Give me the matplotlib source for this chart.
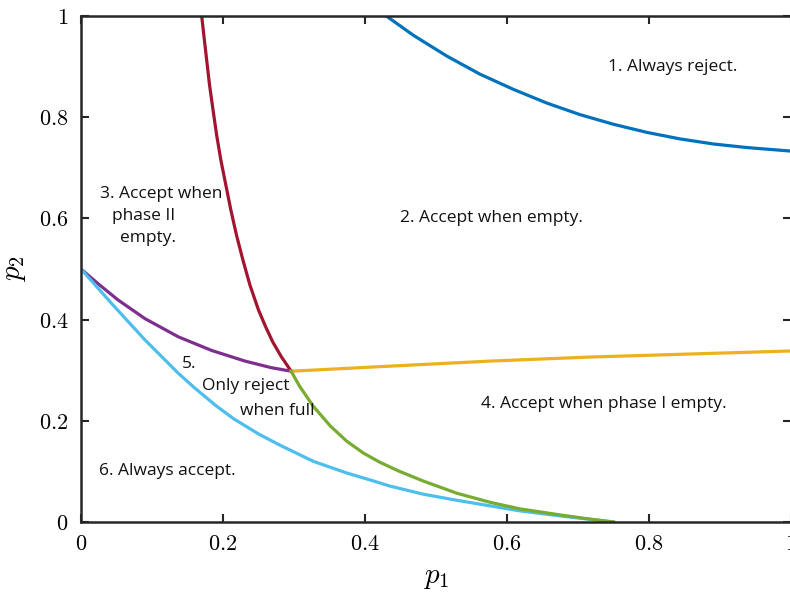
import matplotlib
matplotlib.use("Agg")
import matplotlib.pyplot as plt

plt.rcParams['mathtext.fontset'] = 'cm'

# boundary curves (p1, p2)
blue_x = [0.430, 0.468, 0.515, 0.562, 0.609, 0.656, 0.703, 0.750, 0.797, 0.844, 0.891, 0.938, 1.0]
blue_y = [1.0, 0.962, 0.921, 0.885, 0.855, 0.828, 0.805, 0.786, 0.770, 0.757, 0.747, 0.740, 0.733]

red_x = [0.170, 0.173, 0.177, 0.181, 0.186, 0.191, 0.197, 0.204, 0.211, 0.219, 0.228,
         0.238, 0.250, 0.260, 0.270, 0.282, 0.296]
red_y = [1.0, 0.962, 0.913, 0.864, 0.814, 0.765, 0.715, 0.666, 0.617, 0.567, 0.518,
         0.468, 0.419, 0.386, 0.356, 0.327, 0.298]

purple_x = [0.0, 0.024, 0.052, 0.090, 0.137, 0.184, 0.231, 0.268, 0.296]
purple_y = [0.500, 0.471, 0.439, 0.402, 0.366, 0.339, 0.318, 0.305, 0.298]

yellow_x = [0.296, 0.435, 0.576, 0.717, 0.858, 1.0]
yellow_y = [0.298, 0.308, 0.318, 0.326, 0.332, 0.338]

green_x = [0.296, 0.308, 0.327, 0.351, 0.374, 0.398, 0.421, 0.447, 0.482, 0.529,
           0.576, 0.618, 0.675, 0.710, 0.750]
green_y = [0.298, 0.268, 0.229, 0.190, 0.160, 0.136, 0.118, 0.101, 0.081, 0.057,
           0.039, 0.026, 0.014, 0.007, 0.0]

lblue_x = [0.0, 0.043, 0.090, 0.137, 0.160, 0.190, 0.215, 0.250, 0.280, 0.327, 0.374,
           0.412, 0.435, 0.482, 0.529, 0.576, 0.618, 0.675, 0.750]
lblue_y = [0.500, 0.432, 0.360, 0.294, 0.265, 0.230, 0.204, 0.174, 0.152, 0.120, 0.097,
           0.081, 0.071, 0.055, 0.043, 0.032, 0.022, 0.012, 0.0]

ticks = [0, 0.2, 0.4, 0.6, 0.8, 1]
tick_labels = ['$0$', '$0.2$', '$0.4$', '$0.6$', '$0.8$', '$1$']

fig = plt.figure(figsize=(7.9, 6.02), dpi=100)
ax = fig.add_axes([81 / 790, 80 / 602, 710 / 790, 506 / 602])

lw = 2.3
ax.plot(blue_x, blue_y, color='#0072BD', lw=lw)
ax.plot(red_x, red_y, color='#A2142F', lw=lw)
ax.plot(purple_x, purple_y, color='#7E2F8E', lw=lw)
ax.plot(yellow_x, yellow_y, color='#EDB120', lw=lw)
ax.plot(lblue_x, lblue_y, color='#4DBEEE', lw=lw)
ax.plot(green_x, green_y, color='#77AC30', lw=lw)

ax.set_xlim(0, 1)
ax.set_ylim(0, 1)
ax.set_xticks(ticks)
ax.set_yticks(ticks)
ax.set_xticklabels(tick_labels, fontsize=16)
ax.set_yticklabels(tick_labels, fontsize=16)
ax.tick_params(direction='in', length=6, width=1.5, color='#262626',
               top=True, right=True, pad=9)
for s in ax.spines.values():
    s.set_linewidth(1.8)
    s.set_color('#262626')

ax.set_xlabel('$p_1$', fontsize=21, labelpad=6)
ax.set_ylabel('$p_2$', fontsize=21, labelpad=8)

tf = dict(family='Open Sans', fontsize=12.5, color='#111111')
ax.text(0.833, 0.899, '1. Always reject.', ha='center', va='center', **tf)
ax.text(0.578, 0.601, '2. Accept when empty.', ha='center', va='center', **tf)
ax.text(0.027, 0.648, '3. Accept when', ha='left', va='center', **tf)
ax.text(0.044, 0.605, 'phase II', ha='left', va='center', **tf)
ax.text(0.055, 0.561, 'empty.', ha='left', va='center', **tf)
ax.text(0.737, 0.234, '4. Accept when phase I empty.', ha='center', va='center', **tf)
ax.text(0.142, 0.312, '5.', ha='left', va='center', **tf)
ax.text(0.170, 0.268, 'Only reject', ha='left', va='center', **tf)
ax.text(0.224, 0.219, 'when full', ha='left', va='center', **tf)
ax.text(0.025, 0.101, '6. Always accept.', ha='left', va='center', **tf)

fig.savefig('out.png', dpi=100)
